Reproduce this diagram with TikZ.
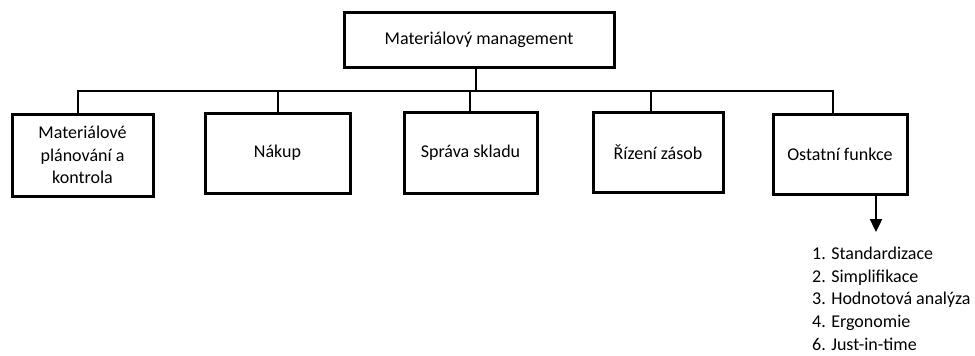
\documentclass[tikz,border=0pt]{standalone}
\usepackage{fontspec}
\setmainfont{Carlito}
\usetikzlibrary{arrows.meta}
\begin{document}
\begin{tikzpicture}[x=1pt,y=1pt,
  box/.style={draw=black,line width=3pt,fill=white,align=center,inner sep=2pt,
    font=\fontsize{18}{22.5}\selectfont},
  link/.style={draw=black,line width=2.4pt}]
\useasboundingbox (0,0) rectangle (975,-356);
% main box
\node[box,minimum width=270,minimum height=55] (top) at (479,-39.5) {Materiálový management};
% function boxes
\node[box,minimum width=141,minimum height=82] (b1) at (82.5,-155) {Materiálové\\plánování a\\kontrola};
\node[box,minimum width=145,minimum height=80] (b2) at (277.5,-153) {Nákup};
\node[box,minimum width=133,minimum height=81] (b3) at (470.5,-152.5) {Správa skladu};
\node[box,minimum width=130,minimum height=80] (b4) at (658,-152) {Řízení zásob};
\node[box,minimum width=134,minimum height=80] (b5) at (840,-154) {Ostatní funkce};
% bus level
\coordinate (bus) at (0,-91);
\draw[link] ([xshift=-3pt]top.south) -- ([xshift=-3pt]top.south |- bus);
\draw[link] ([xshift=-4.5pt]b1.north) -- ([xshift=-4.5pt]b1.north |- bus)
  -- ([xshift=-7pt]b5.north |- bus) -- ([xshift=-7pt]b5.north);
\draw[link] ([xshift=0.5pt]b2.north) -- ([xshift=0.5pt]b2.north |- bus);
\draw[link] ([xshift=-0.5pt]b3.north) -- ([xshift=-0.5pt]b3.north |- bus);
\draw[link] ([xshift=-7pt]b4.north) -- ([xshift=-7pt]b4.north |- bus);
% arrow to the list
\coordinate (tip) at (876,-232);
\draw[link,-{Triangle[length=13pt,width=12pt]}] ([xshift=36pt]b5.south) -- ([xshift=36pt]b5.south |- tip);
\node[anchor=north west,align=left,inner sep=0pt,font=\fontsize{18}{22.6}\selectfont] (list) at (812,-247)
  {1. Standardizace\\2. Simplifikace\\3. Hodnotová analýza\\4. Ergonomie\\6. Just-in-time};
\end{tikzpicture}
\end{document}
